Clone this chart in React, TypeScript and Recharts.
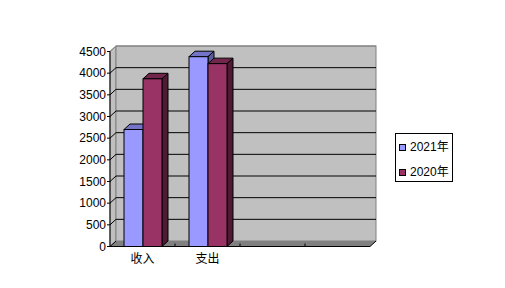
import React from 'react';
import { BarChart, Bar, XAxis, YAxis, CartesianGrid, ReferenceArea } from 'recharts';

const categories = ['收入', '支出', '', ''];
const values2021: (number | null)[] = [2700, 4380, null, null];
const values2020: (number | null)[] = [3870, 4220, null, null];
const seriesNames = ['2021年', '2020年'];
const yTicks = [0, 500, 1000, 1500, 2000, 2500, 3000, 3500, 4000, 4500];

const data = categories.map((name, i) => ({ name, s2021: values2021[i], s2020: values2020[i] }));

const DX = 6;
const DY = 5.5;
const FONT = "'Liberation Sans', 'Noto Sans CJK SC', sans-serif";

const seriesStyles = [
  { key: 's2021', name: seriesNames[0], front: '#9999FF', top: '#7373C8', side: '#5A5AA0' },
  { key: 's2020', name: seriesNames[1], front: '#993366', top: '#72264C', side: '#4F1A34' },
];

function make3DBar(topColor: string, sideColor: string) {
  return (props: any) => {
    const { x, y, width, height, fill } = props;
    if (x == null || y == null || !height || !width) return <g />;
    const r = x + width;
    const b = y + height;
    return (
      <g>
        <polygon
          points={`${x},${y} ${x + DX},${y - DY} ${r + DX},${y - DY} ${r},${y}`}
          fill={topColor}
          stroke="#000"
          strokeWidth={1}
          strokeLinejoin="round"
        />
        <polygon
          points={`${r},${y} ${r + DX},${y - DY} ${r + DX},${b - DY} ${r},${b}`}
          fill={sideColor}
          stroke="#000"
          strokeWidth={1}
          strokeLinejoin="round"
        />
        <rect x={x} y={y} width={width} height={height} fill={fill} stroke="#000" strokeWidth={1} />
      </g>
    );
  };
}

const WallShape = (props: any) => {
  const { x, y, width, height } = props;
  if (x == null) return <g />;
  const r = x + width;
  const b = y + height;
  return (
    <g>
      <polygon
        points={`${x},${y} ${x + DX},${y - DY} ${x + DX},${b - DY} ${x},${b}`}
        fill="#C0C0C0"
        stroke="#808080"
        strokeWidth={1}
      />
      <rect x={x + DX} y={y - DY} width={width} height={height} fill="#C0C0C0" stroke="#808080" strokeWidth={1} />
      <polygon
        points={`${x},${b} ${r},${b} ${r + DX},${b - DY} ${x + DX},${b - DY}`}
        fill="#808080"
        stroke="none"
      />
      <polyline points={`${x},${b} ${r},${b} ${r + DX},${b - DY}`} fill="none" stroke="#000" strokeWidth={1} />
    </g>
  );
};

const gridLine = (props: any) => {
  const { x1, x2, y1, index } = props;
  const last = yTicks.length - 1;
  if (index === 0) {
    return <line key={`gl-${index}`} x1={x1} y1={y1} x2={x1 + DX} y2={y1 - DY} stroke="#000" strokeWidth={1} />;
  }
  const stroke = index === last ? '#808080' : '#000';
  return (
    <polyline
      key={`gl-${index}`}
      points={`${x1},${y1} ${x1 + DX},${y1 - DY} ${x2 + DX},${y1 - DY}`}
      fill="none"
      stroke={stroke}
      strokeWidth={1}
    />
  );
};

const XTick = (props: any) => {
  const { x, y, payload, index } = props;
  const half = payload?.offset ?? 0;
  return (
    <g>
      {index < categories.length - 1 && (
        <line x1={x + half} y1={y} x2={x + half} y2={y - 3} stroke="#000" strokeWidth={1} />
      )}
      <text
        x={x}
        y={y + 12.5}
        textAnchor="middle"
        dominantBaseline="central"
        fontSize={12}
        fontFamily={FONT}
        fill="#000"
      >
        {payload?.value}
      </text>
    </g>
  );
};

export default function App() {
  return (
    <div style={{ position: 'absolute', left: 0, top: 0, width: 505, height: 288, background: '#fff' }}>
      <BarChart
        width={505}
        height={288}
        data={data}
        margin={{ top: 51.5, right: 135, bottom: 11.5, left: 0 }}
        barGap={0}
        barSize={19}
      >
        <ReferenceArea y1={0} y2={4500} shape={WallShape} ifOverflow="visible" {...({ zIndex: -200 } as any)} />
        <CartesianGrid vertical={false} horizontal={gridLine as any} />
        <XAxis
          dataKey="name"
          interval={0}
          height={30}
          tickSize={0}
          tickMargin={0}
          tickLine={false}
          axisLine={{ stroke: '#000' }}
          tick={<XTick />}
        />
        <YAxis
          type="number"
          domain={[0, 4500]}
          ticks={yTicks}
          interval={0}
          width={110}
          tickSize={3}
          tickMargin={1}
          axisLine={{ stroke: '#000' }}
          tickLine={{ stroke: '#000' }}
          tick={{ fontSize: 12, fill: '#000', fontFamily: FONT }}
        />
        {seriesStyles.map((s) => (
          <Bar
            key={s.key}
            dataKey={s.key}
            name={s.name}
            fill={s.front}
            isAnimationActive={false}
            shape={make3DBar(s.top, s.side)}
          />
        ))}
      </BarChart>
      <div
        style={{
          position: 'absolute',
          left: 395,
          top: 133,
          width: 58,
          height: 49,
          boxSizing: 'border-box',
          border: '1px solid #000',
          background: '#fff',
          fontFamily: FONT,
          fontSize: 12,
          color: '#000',
        }}
      >
        {seriesStyles.map((s, i) => (
          <div key={s.key} style={{ position: 'absolute', left: 3, top: 6 + i * 25, height: 14, display: 'flex', alignItems: 'center' }}>
            <div
              style={{
                width: 7,
                height: 7,
                boxSizing: 'border-box',
                border: '1px solid #000',
                background: s.front,
                marginRight: 4,
              }}
            />
            <span style={{ lineHeight: '14px', whiteSpace: 'nowrap' }}>{s.name}</span>
          </div>
        ))}
      </div>
    </div>
  );
}
